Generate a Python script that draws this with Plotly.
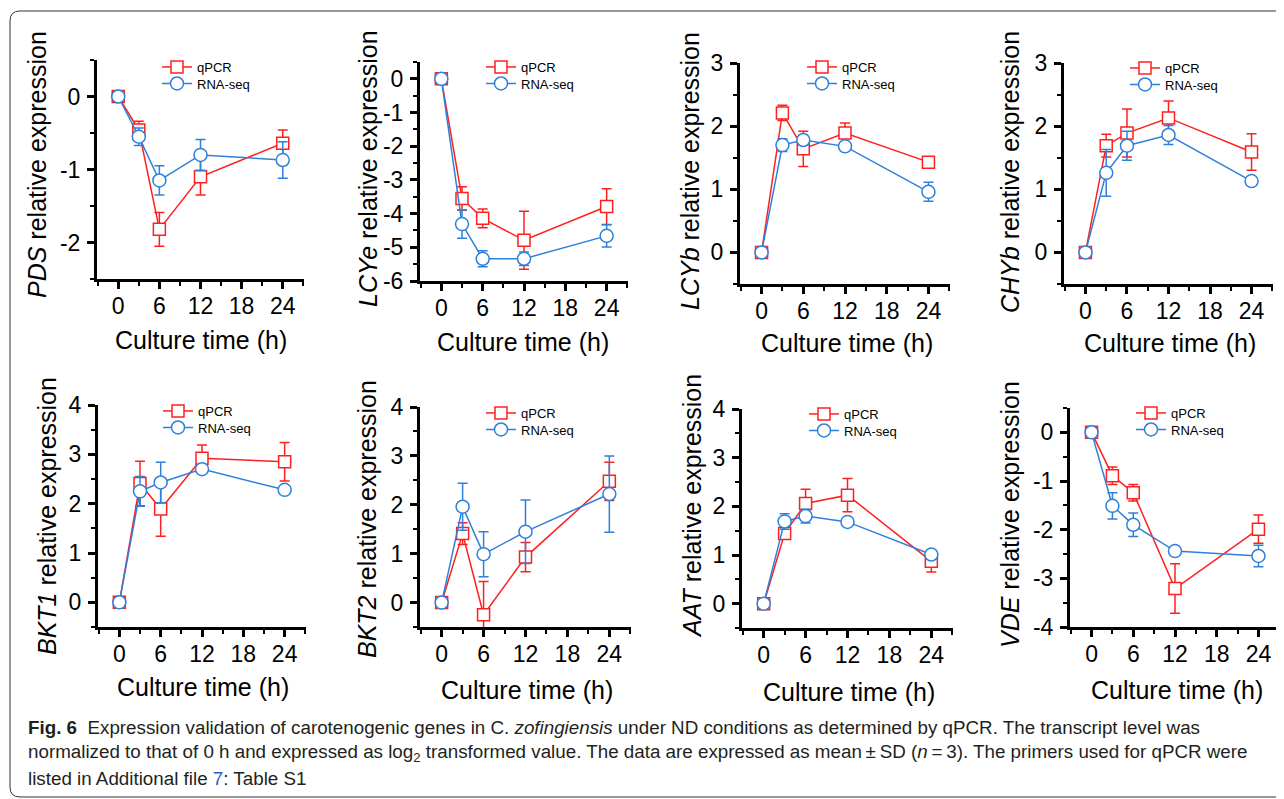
import plotly.graph_objects as go

# ---------------- data ----------------
time_h = [0, 3, 6, 12, 24]
genes = ["PDS", "LCYe", "LCYb", "CHYb", "BKT1", "BKT2", "AAT", "VDE"]
series_names = ["qPCR", "RNA-seq"]

pds_qpcr = [0, -0.46, -1.82, -1.10, -0.64]
pds_qpcr_sd = [0, 0.12, 0.23, 0.25, 0.18]
pds_rna = [0, -0.55, -1.15, -0.80, -0.87]
pds_rna_sd = [0, 0.12, 0.20, 0.21, 0.25]

lcye_qpcr = [0, -3.55, -4.14, -4.79, -3.79]
lcye_qpcr_sd = [0, 0.35, 0.28, 0.86, 0.53]
lcye_rna = [0, -4.31, -5.34, -5.34, -4.66]
lcye_rna_sd = [0, 0.42, 0.24, 0.20, 0.33]

lcyb_qpcr = [0, 2.21, 1.64, 1.89, 1.43]
lcyb_qpcr_sd = [0, 0.12, 0.28, 0.16, 0.05]
lcyb_rna = [0, 1.70, 1.78, 1.68, 0.96]
lcyb_rna_sd = [0, 0.10, 0.08, 0.04, 0.15]

chyb_qpcr = [0, 1.69, 1.89, 2.13, 1.59]
chyb_qpcr_sd = [0, 0.18, 0.38, 0.27, 0.29]
chyb_rna = [0, 1.26, 1.69, 1.86, 1.13]
chyb_rna_sd = [0, 0.37, 0.23, 0.15, 0.05]

bkt1_qpcr = [0, 2.41, 1.89, 2.92, 2.85]
bkt1_qpcr_sd = [0, 0.45, 0.55, 0.27, 0.39]
bkt1_rna = [0, 2.25, 2.43, 2.70, 2.28]
bkt1_rna_sd = [0, 0.30, 0.41, 0.07, 0.08]

bkt2_qpcr = [0, 1.41, -0.25, 0.93, 2.48]
bkt2_qpcr_sd = [0, 0.22, 0.68, 0.30, 0.39]
bkt2_rna = [0, 1.96, 0.99, 1.45, 2.22]
bkt2_rna_sd = [0, 0.48, 0.46, 0.65, 0.78]

aat_qpcr = [0, 1.44, 2.06, 2.23, 0.87]
aat_qpcr_sd = [0, 0.07, 0.29, 0.34, 0.22]
aat_rna = [0, 1.69, 1.80, 1.68, 1.01]
aat_rna_sd = [0, 0.16, 0.14, 0.06, 0.08]

vde_qpcr = [0, -0.89, -1.24, -3.21, -1.99]
vde_qpcr_sd = [0, 0.18, 0.17, 0.51, 0.29]
vde_rna = [0, -1.51, -1.90, -2.44, -2.54]
vde_rna_sd = [0, 0.27, 0.24, 0.06, 0.22]

y_ranges = [(-2.5, 0.5), (-6, 0.5), (-0.5, 3), (-0.5, 3),
            (-0.5, 4), (-0.5, 4), (-0.5, 4), (-4, 0.5)]
x_ticks = [0, 6, 12, 18, 24]

x_title = "Culture time (h)"
caption_lines = [
    "<b>Fig. 6</b>  Expression validation of carotenogenic genes in C. <i>zofingiensis</i> under ND conditions as determined by qPCR. The transcript level was",
    "normalized to that of 0 h and expressed as log<sub>2</sub> transformed value. The data are expressed as mean\u2009\u00b1\u2009SD (<i>n</i>\u2009=\u20093). The primers used for qPCR were",
    "listed in Additional file <span style='color:#2F5DC8'>7</span>: Table S1",
]

data = [
    (pds_qpcr, pds_qpcr_sd, pds_rna, pds_rna_sd),
    (lcye_qpcr, lcye_qpcr_sd, lcye_rna, lcye_rna_sd),
    (lcyb_qpcr, lcyb_qpcr_sd, lcyb_rna, lcyb_rna_sd),
    (chyb_qpcr, chyb_qpcr_sd, chyb_rna, chyb_rna_sd),
    (bkt1_qpcr, bkt1_qpcr_sd, bkt1_rna, bkt1_rna_sd),
    (bkt2_qpcr, bkt2_qpcr_sd, bkt2_rna, bkt2_rna_sd),
    (aat_qpcr, aat_qpcr_sd, aat_rna, aat_rna_sd),
    (vde_qpcr, vde_qpcr_sd, vde_rna, vde_rna_sd),
]

# ---------------- layout geometry (window pixels) ----------------
# the page body has an 8 px margin, so the figure is drawn 8 px in from the window corner
OFF = 8
W, H = 1284 - OFF, 799 - OFF
def px(x):
    return (x - OFF) / W
def py(y):
    return 1 - (y - OFF) / H

# plot-area boxes: (left, right, top, bottom)
boxes = [(97, 304, 60, 279), (420, 628, 62, 281), (740, 950, 63, 284), (1064, 1273, 63, 284),
         (98, 306, 405, 627), (420, 631, 407, 627), (742, 953, 409, 628), (1070, 1280, 408, 627)]
# legend line-start x, first row y
legend_pos = [(163, 67), (487, 67), (808, 67), (1131, 68),
              (164, 411), (487, 413), (810, 414), (1137, 413)]
ytitle_pos = [(37, 165), (368, 168), (690, 171), (1010, 172),
              (47, 516), (367, 519), (692, 506), (1010, 515)]
xtitle_pos = [(201, 340), (523, 342), (847, 343), (1170, 343),
              (203, 687), (527, 690), (849, 692), (1177, 690)]

RED = "#FF1F1F"
BLUE = "#2F80DA"
FONT = "Liberation Sans, Arial, sans-serif"

fig = go.Figure()
layout = dict(
    template="none",
    width=W, height=H, autosize=False,
    margin=dict(l=0, r=0, t=0, b=0, pad=0, autoexpand=False),
    paper_bgcolor="white", plot_bgcolor="white",
    font=dict(family=FONT, color="black"),
    showlegend=True,
    annotations=[], shapes=[],
)

leg_idx = 0
for i, gene in enumerate(genes):
    q, qsd, r, rsd = data[i]
    n = i + 1
    xa = "x" if n == 1 else f"x{n}"
    ya = "y" if n == 1 else f"y{n}"
    for j, (vals, sds, name, color, symbol, msize) in enumerate([
        (q, qsd, series_names[0], RED, "square", 12),
        (r, rsd, series_names[1], BLUE, "circle", 13),
    ]):
        leg_idx += 1
        lname = "legend" if leg_idx == 1 else f"legend{leg_idx}"
        fig.add_trace(go.Scatter(
            x=time_h, y=vals, name=name, mode="lines+markers",
            xaxis=xa, yaxis=ya, legend=lname,
            line=dict(color=color, width=1.5),
            marker=dict(symbol=symbol, size=msize, color="white",
                        line=dict(color=color, width=1.5)),
            error_y=dict(type="data", array=sds, visible=True, color=color,
                         thickness=1.5, width=5),
            cliponaxis=True,
        ))
        lx, ly = legend_pos[i]
        layout[lname] = dict(
            x=px(lx - 6), y=py(ly + j * 16.5), xanchor="left", yanchor="middle",
            bgcolor="rgba(0,0,0,0)", borderwidth=0,
            font=dict(family=FONT, size=13, color="black"),
            itemwidth=30, tracegroupgap=0,
        )

    l, rgt, t, b = boxes[i]
    y0, y1 = y_ranges[i]
    yt = [v for v in range(int(y0) - 1, int(y1) + 2) if y0 <= v <= y1]
    axis_common = dict(
        showline=True, linecolor="black", linewidth=3,
        ticks="outside", ticklen=7, tickwidth=2.5, tickcolor="black",
        showgrid=False, zeroline=False, automargin=False,
        tickfont=dict(family=FONT, size=23, color="black"),
        fixedrange=True,
    )
    layout["xaxis" if n == 1 else f"xaxis{n}"] = dict(
        axis_common, domain=[px(l), px(rgt)], anchor=ya, range=[-3.1, 27.1],
        tickvals=x_ticks, ticktext=[str(v) for v in x_ticks],
        minor=dict(ticks="outside", ticklen=4, tickwidth=2, tickcolor="black", dtick=3, tick0=0, showgrid=False),
        ticklabelstandoff=-3,
    )
    layout["yaxis" if n == 1 else f"yaxis{n}"] = dict(
        axis_common, domain=[py(b), py(t)], anchor=xa, range=[y0, y1],
        tickvals=yt, ticktext=[str(v) for v in yt],
        minor=dict(ticks="outside", ticklen=4, tickwidth=2, tickcolor="black", dtick=0.5, tick0=0, showgrid=False),
        ticklabelstandoff=2,
    )
    tx, ty = ytitle_pos[i]
    layout["annotations"].append(dict(
        text=f"<i>{gene}</i> relative expression", textangle=-90,
        x=px(tx), y=py(ty), xref="paper", yref="paper",
        xanchor="center", yanchor="middle", showarrow=False,
        font=dict(family=FONT, size=25, color="black"),
    ))
    tx, ty = xtitle_pos[i]
    layout["annotations"].append(dict(
        text=x_title, x=px(tx), y=py(ty), xref="paper", yref="paper",
        xanchor="center", yanchor="middle", showarrow=False,
        font=dict(family=FONT, size=25, color="black"),
    ))

# caption
for k, (line, cy) in enumerate(zip(caption_lines, [727, 753, 778])):
    layout["annotations"].append(dict(
        text=line, x=px(26), y=py(cy), xref="paper", yref="paper",
        xanchor="left", yanchor="middle", showarrow=False, align="left",
        font=dict(family=FONT, size=18.8, color="#231F20"),
    ))

# rounded frame
def P(x, y):
    return f"{px(x):.5f},{py(y):.5f}"
path = (f"M {P(1300, 11)} L {P(20, 11)} Q {P(10, 11)} {P(10, 21)} "
        f"L {P(10, 787)} Q {P(10, 797)} {P(20, 797)} L {P(1300, 797)}")
layout["shapes"].append(dict(type="path", path=path, xref="paper", yref="paper",
                             line=dict(color="#333333", width=1)))

fig.update_layout(**layout)
fig.write_html("out.html", include_plotlyjs=True, full_html=True,
               default_width=W, default_height=H)
